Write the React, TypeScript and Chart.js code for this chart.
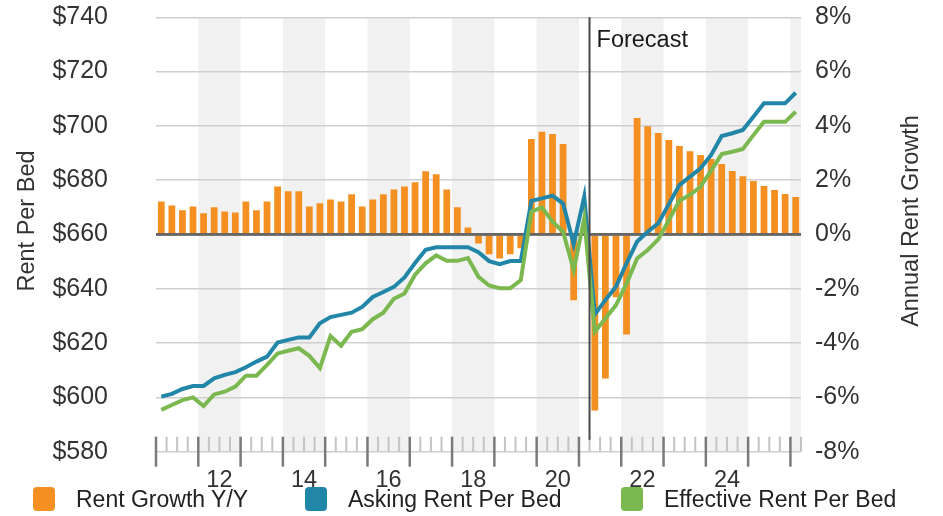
import React, { useEffect, useRef } from "react";
import { Chart, registerables } from "chart.js";

Chart.register(...registerables);

// ---------------- data ----------------
const START_YEAR = 2011;
const quarterLabels: string[] = [];
for (let y = START_YEAR; y <= 2026; y++) {
  for (let q = 1; q <= 4; q++) quarterLabels.push(`${y} Q${q}`);
}
quarterLabels.length = 61; // 2011 Q1 .. 2026 Q1

// Rent Growth Y/Y (%), right axis
const rentGrowth = [
  1.22, 1.07, 0.89, 1.03, 0.78, 1.0, 0.85, 0.81, 1.22, 0.89, 1.22, 1.77, 1.59, 1.59, 1.03,
  1.15, 1.29, 1.22, 1.48, 1.03, 1.29, 1.48, 1.66, 1.77, 1.92, 2.33, 2.22, 1.66, 1.0, 0.26,
  -0.33, -0.73, -0.88, -0.73, -0.51, 3.52, 3.78, 3.7, 3.33, -2.42, 0.0,
  -6.48, -5.3, -2.31, -3.68, 4.29, 3.99, 3.74, 3.48, 3.26, 3.07, 2.93, 2.78, 2.6, 2.34,
  2.15, 1.97, 1.79, 1.64, 1.49, 1.38,
];

// Asking Rent Per Bed ($), left axis
const askingRent = [
  600.3, 601.3, 603.1, 604.2, 604.2, 607.0, 608.3, 609.3, 611.1, 613.2, 615.0, 620.2, 621.2, 622.1, 622.1,
  627.3, 629.6, 630.4, 631.2, 633.3, 637.0, 638.8, 640.7, 644.2, 649.5, 654.4, 655.3, 655.3, 655.3, 655.3,
  653.5, 650.2, 649.1, 650.2, 650.2, 672.4, 673.3, 674.3, 671.4, 656.4, 674.0,
  630.5, 635.9, 640.8, 649.4, 657.4, 661.0, 664.1, 671.2, 678.2, 681.3, 684.4, 689.3, 696.3, 697.3,
  698.5, 703.4, 708.3, 708.3, 708.3, 712.2,
];

// Effective Rent Per Bed ($), left axis
const effectiveRent = [
  595.4, 597.2, 599.0, 600.0, 596.8, 601.1, 602.1, 604.0, 608.0, 608.0, 612.0, 616.2, 617.2, 618.1, 615.3,
  610.8, 622.6, 619.0, 624.2, 625.1, 628.8, 631.2, 636.3, 638.3, 645.2, 649.4, 652.3, 650.3, 650.3, 651.3,
  644.4, 641.2, 640.2, 640.2, 643.2, 668.4, 670.0, 664.7, 661.0, 646.9, 665.9,
  624.2, 629.1, 634.0, 641.9, 651.2, 654.3, 658.2, 665.3, 672.4, 674.6, 677.6, 683.5, 689.6, 690.5,
  691.5, 696.6, 701.5, 701.5, 701.5, 705.2,
];

const xTickLabels = ["12", "14", "16", "18", "20", "22", "24"];
const shadedYears = [2012, 2014, 2016, 2018, 2020, 2022, 2024, 2026];
const forecastStartIndex = 41;
const forecastLabel = "Forecast";
const leftTitle = "Rent Per Bed";
const rightTitle = "Annual Rent Growth";

const seriesNames = ["Rent Growth Y/Y", "Asking Rent Per Bed", "Effective Rent Per Bed"];
const COLORS = ["#F39021", "#2186A7", "#7BB84F"];

const FONT = '"Liberation Sans", Arial, Helvetica, sans-serif';
const TEXT = "#333333";

// ---------------- plugins ----------------
const decorPlugin = {
  id: "decor",
  beforeDraw(chart: any) {
    const { ctx, chartArea } = chart;
    const xs = chart.scales.x;
    ctx.save();
    ctx.fillStyle = "#F1F1F1";
    shadedYears.forEach((yr) => {
      const a = xs.getPixelForValue((yr - START_YEAR) * 4);
      const b = Math.min(xs.getPixelForValue((yr - START_YEAR + 1) * 4), chartArea.right);
      if (b > a) ctx.fillRect(a, chartArea.top, b - a, chartArea.bottom - chartArea.top);
    });
    ctx.restore();
  },
  afterDatasetDraw(chart: any, args: any) {
    if (args.meta.type !== "bar") return;
    const { ctx, chartArea } = chart;
    const y0 = chart.scales.y1.getPixelForValue(0);
    ctx.save();
    ctx.strokeStyle = "#666666";
    ctx.lineWidth = 2.5;
    ctx.beginPath();
    ctx.moveTo(chartArea.left, y0);
    ctx.lineTo(chartArea.right, y0);
    ctx.stroke();
    ctx.restore();
  },
  afterDraw(chart: any) {
    const { ctx, chartArea } = chart;
    const xs = chart.scales.x;
    ctx.save();
    // tick strip
    const stripTop = chartArea.bottom - 15;
    for (let k = 0; k <= quarterLabels.length; k++) {
      const px = xs.getPixelForValue(k);
      const major = k % 4 === 0;
      ctx.strokeStyle = major ? "#7A7A7A" : "#C4C4C4";
      ctx.lineWidth = major ? 2.5 : 2;
      ctx.beginPath();
      ctx.moveTo(px, stripTop);
      ctx.lineTo(px, major ? chartArea.bottom + 15 : chartArea.bottom);
      ctx.stroke();
    }
    // forecast divider
    const fx = xs.getPixelForValue(forecastStartIndex);
    ctx.strokeStyle = "#4A4A4A";
    ctx.lineWidth = 2;
    ctx.beginPath();
    ctx.moveTo(fx, chartArea.top);
    ctx.lineTo(fx, chartArea.bottom - 12);
    ctx.stroke();
    ctx.fillStyle = "#1A1A1A";
    ctx.font = `23.5px ${FONT}`;
    ctx.textAlign = "left";
    ctx.textBaseline = "alphabetic";
    ctx.fillText(forecastLabel, fx + 7, chartArea.top + 30);
    // axis titles (both read bottom-to-top)
    ctx.fillStyle = TEXT;
    ctx.textAlign = "center";
    ctx.textBaseline = "middle";
    ctx.font = `23.5px ${FONT}`;
    const cy = 221;
    [[28, leftTitle], [912, rightTitle]].forEach(([x, t]) => {
      ctx.save();
      ctx.translate(x as number, cy);
      ctx.rotate(-Math.PI / 2);
      ctx.fillText(t as string, 0, 0);
      ctx.restore();
    });
    ctx.restore();
  },
};

// ---------------- component ----------------
export default function App() {
  const canvasRef = useRef<HTMLCanvasElement | null>(null);

  useEffect(() => {
    document.body.style.margin = "0";
    const canvas = canvasRef.current;
    if (!canvas) return;

    const toPoints = (arr: number[]) => arr.map((v, i) => ({ x: i + 0.5, y: v }));

    const chart = new Chart(canvas, {
      type: "line",
      data: {
        datasets: [
          {
            type: "bar",
            label: seriesNames[0],
            data: toPoints(rentGrowth),
            yAxisID: "y1",
            backgroundColor: COLORS[0],
            borderWidth: 0,
            categoryPercentage: 1,
            barPercentage: 0.64,
            order: 3,
          },
          {
            type: "line",
            label: seriesNames[1],
            data: toPoints(askingRent),
            yAxisID: "y",
            borderColor: COLORS[1],
            backgroundColor: COLORS[1],
            borderWidth: 4,
            pointRadius: 0,
            tension: 0,
            order: 2,
          },
          {
            type: "line",
            label: seriesNames[2],
            data: toPoints(effectiveRent),
            yAxisID: "y",
            borderColor: COLORS[2],
            backgroundColor: COLORS[2],
            borderWidth: 4,
            pointRadius: 0,
            tension: 0,
            order: 1,
          },
        ] as any,
      },
      options: {
        responsive: false,
        animation: false,
        devicePixelRatio: 1,
        layout: { padding: { top: 17.3, left: 0, right: 0, bottom: 0 } },
        plugins: {
          legend: { display: false },
          tooltip: { enabled: false },
        },
        scales: {
          x: {
            type: "linear",
            min: 0,
            max: quarterLabels.length,
            offset: false,
            grid: { display: false, drawTicks: false },
            border: { display: false },
            afterBuildTicks: (s: any) => {
              s.ticks = xTickLabels.map((l) => ({ value: (2000 + Number(l) - START_YEAR) * 4 + 2 }));
            },
            afterFit: (s: any) => {
              s.height = 516 - 451.7;
            },
            ticks: {
              autoSkip: false,
              maxRotation: 0,
              minRotation: 0,
              padding: 15,
              color: TEXT,
              font: { family: FONT, size: 23.5 },
              callback: (v: any) => {
                const idx = xTickLabels.findIndex(
                  (l) => (2000 + Number(l) - START_YEAR) * 4 + 2 === Number(v)
                );
                return idx >= 0 ? xTickLabels[idx] : "";
              },
            },
          },
          y: {
            type: "linear",
            position: "left",
            min: 580,
            max: 740,
            grid: { display: false, drawTicks: true, tickLength: 46, tickColor: "rgba(0,0,0,0)" },
            border: { display: false },
            afterFit: (s: any) => {
              s.width = 156;
            },
            ticks: {
              stepSize: 20,
              padding: 2,
              color: TEXT,
              font: { family: FONT, size: 25 },
              callback: (v: any) => "$" + v,
            },
          },
          y1: {
            type: "linear",
            position: "right",
            min: -8,
            max: 8,
            grid: {
              drawTicks: true,
              tickLength: 12,
              tickColor: "rgba(0,0,0,0)",
              color: (c: any) => (c.tick && c.tick.value === 0 ? "#666666" : "#CFCFCF"),
              lineWidth: (c: any) => (c.tick && c.tick.value === 0 ? 2.5 : 1.5),
            },
            border: { display: false },
            afterFit: (s: any) => {
              s.width = 943 - 801;
            },
            ticks: {
              stepSize: 2,
              padding: 2,
              color: TEXT,
              font: { family: FONT, size: 25 },
              callback: (v: any) => v + "%",
            },
          },
        },
      } as any,
      plugins: [decorPlugin],
    });

    return () => chart.destroy();
  }, []);

  const legendPos = [
    { box: 33, text: 76 },
    { box: 305, text: 348 },
    { box: 621, text: 664 },
  ];

  return (
    <div style={{ position: "relative", width: 943, height: 516, background: "#fff" }}>
      <canvas ref={canvasRef} width={943} height={516} style={{ display: "block" }} />
      {seriesNames.map((name, i) => (
        <div key={name}>
          <div
            style={{
              position: "absolute",
              left: legendPos[i].box,
              top: 487,
              width: 22,
              height: 24,
              borderRadius: 4,
              background: COLORS[i],
            }}
          />
          <div
            style={{
              position: "absolute",
              left: legendPos[i].text,
              top: 485,
              height: 28,
              lineHeight: "28px",
              fontFamily: FONT,
              fontSize: 23,
              color: "#222",
              whiteSpace: "nowrap",
            }}
          >
            {name}
          </div>
        </div>
      ))}
    </div>
  );
}
